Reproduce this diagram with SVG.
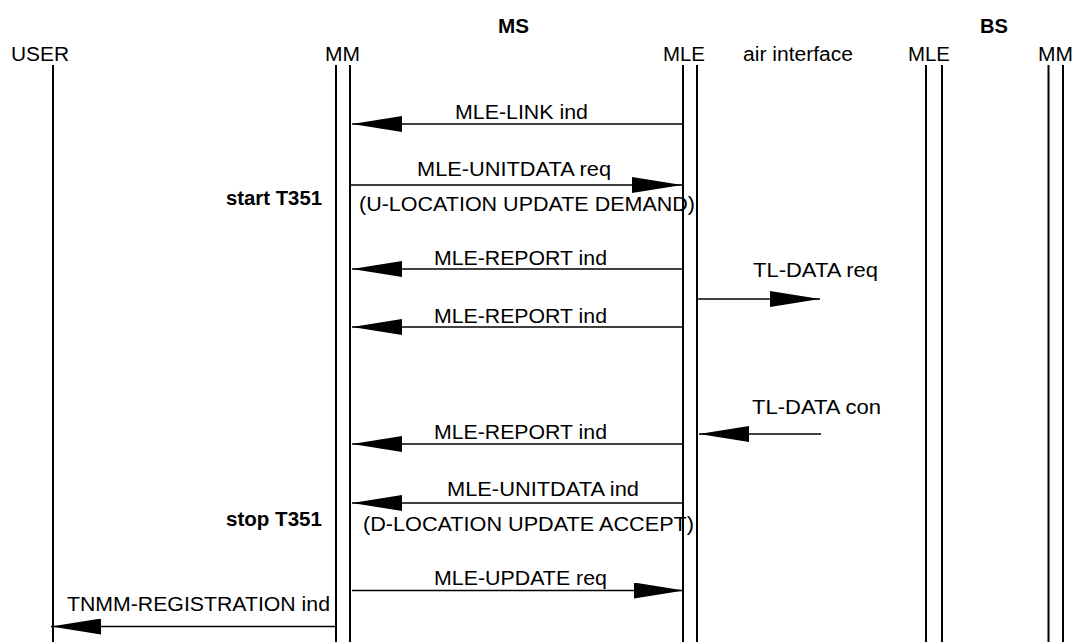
<svg xmlns="http://www.w3.org/2000/svg" width="1074" height="642" viewBox="0 0 1074 642">
<style>
text{font-family:"Liberation Sans",Arial,sans-serif;font-size:20px;fill:#000}
.b{font-weight:bold}
.life{stroke:#000;stroke-width:2;fill:none}
.msg{stroke:#000;stroke-width:1.5;fill:none;marker-end:url(#ah)}
</style>
<defs>
<marker id="ah" markerUnits="userSpaceOnUse" markerWidth="50" markerHeight="16" refX="50" refY="8" orient="auto" viewBox="0 0 50 16">
<path d="M0,0 L50,8 L0,16 z" fill="#000"/>
</marker>
</defs>
<rect width="1074" height="642" fill="#fff"/>
<text class="b" x="498" y="33" textLength="31" lengthAdjust="spacingAndGlyphs">MS</text>
<text class="b" x="980" y="33" textLength="28" lengthAdjust="spacingAndGlyphs">BS</text>
<text x="743" y="61" textLength="110" lengthAdjust="spacingAndGlyphs">air interface</text>
<g id="user">
<text x="11" y="61" textLength="58" lengthAdjust="spacingAndGlyphs">USER</text>
<line class="life" x1="53" y1="65" x2="53" y2="642"/>
</g>
<g id="ms-mm">
<text x="325" y="61" textLength="35" lengthAdjust="spacingAndGlyphs">MM</text>
<line class="life" x1="336" y1="65" x2="336" y2="642"/>
<line class="life" x1="350" y1="65" x2="350" y2="642"/>
</g>
<g id="ms-mle">
<text x="663" y="61" textLength="42" lengthAdjust="spacingAndGlyphs">MLE</text>
<line class="life" x1="683" y1="65" x2="683" y2="642"/>
<line class="life" x1="697" y1="65" x2="697" y2="642"/>
</g>
<g id="bs-mle">
<text x="908" y="61" textLength="42" lengthAdjust="spacingAndGlyphs">MLE</text>
<line class="life" x1="926" y1="65" x2="926" y2="642"/>
<line class="life" x1="942" y1="65" x2="942" y2="642"/>
</g>
<g id="bs-mm">
<text x="1038" y="61" textLength="35" lengthAdjust="spacingAndGlyphs">MM</text>
<line class="life" x1="1048.5" y1="65" x2="1048.5" y2="642"/>
<line class="life" x1="1063" y1="65" x2="1063" y2="642"/>
</g>
<g id="timers">
<text class="b" x="226" y="205" textLength="96" lengthAdjust="spacingAndGlyphs">start T351</text>
<text class="b" x="226" y="526" textLength="96" lengthAdjust="spacingAndGlyphs">stop T351</text>
</g>
<g id="connectors">
<line class="msg" x1="682" y1="124" x2="352" y2="124"/>
<text x="455" y="119" textLength="133" lengthAdjust="spacingAndGlyphs">MLE-LINK ind</text>
<line class="msg" x1="351" y1="185" x2="682" y2="185"/>
<text x="417" y="176" textLength="194" lengthAdjust="spacingAndGlyphs">MLE-UNITDATA req</text>
<text x="359" y="211" textLength="336" lengthAdjust="spacingAndGlyphs">(U-LOCATION UPDATE DEMAND)</text>
<line class="msg" x1="682" y1="269" x2="352" y2="269"/>
<text x="434" y="265" textLength="173" lengthAdjust="spacingAndGlyphs">MLE-REPORT ind</text>
<line class="msg" x1="698" y1="299" x2="820" y2="299"/>
<text x="753" y="277" textLength="125" lengthAdjust="spacingAndGlyphs">TL-DATA req</text>
<line class="msg" x1="682" y1="327" x2="352" y2="327"/>
<text x="434" y="323" textLength="173" lengthAdjust="spacingAndGlyphs">MLE-REPORT ind</text>
<line class="msg" x1="821" y1="434" x2="699" y2="434"/>
<text x="752" y="414" textLength="129" lengthAdjust="spacingAndGlyphs">TL-DATA con</text>
<line class="msg" x1="682" y1="444" x2="352" y2="444"/>
<text x="434" y="439" textLength="173" lengthAdjust="spacingAndGlyphs">MLE-REPORT ind</text>
<line class="msg" x1="682" y1="503" x2="352" y2="503"/>
<text x="447" y="496" textLength="192" lengthAdjust="spacingAndGlyphs">MLE-UNITDATA ind</text>
<text x="363" y="531" textLength="331" lengthAdjust="spacingAndGlyphs">(D-LOCATION UPDATE ACCEPT)</text>
<line class="msg" x1="352" y1="590.5" x2="684" y2="590.5"/>
<text x="434" y="585" textLength="173" lengthAdjust="spacingAndGlyphs">MLE-UPDATE req</text>
<line class="msg" x1="335" y1="626.5" x2="51" y2="626.5"/>
<text x="67" y="611" textLength="263" lengthAdjust="spacingAndGlyphs">TNMM-REGISTRATION ind</text>
</g>
</svg>
